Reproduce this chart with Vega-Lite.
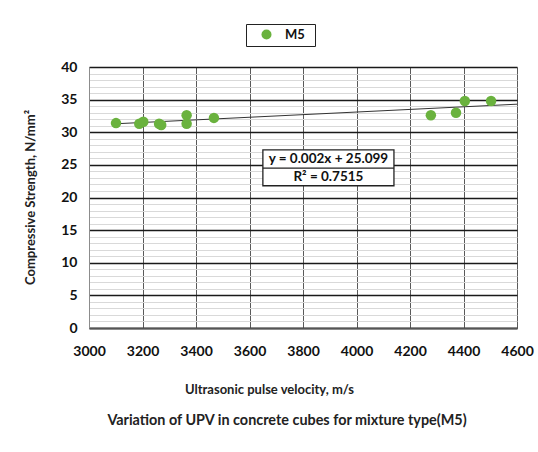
{
  "$schema": "https://vega.github.io/schema/vega-lite/v6.json",
  "width": 428,
  "height": 261,
  "autosize": {"type": "none"},
  "padding": {"left": 89, "top": 67, "right": 21, "bottom": 124},
  "background": "white",
  "config": {
    "font": "Lato",
    "view": {"stroke": null}
  },
  "title": {
    "text": "Variation of UPV in concrete cubes for mixture type(M5)",
    "orient": "bottom",
    "anchor": "middle",
    "offset": 18,
    "dx": -16,
    "font": "Lato",
    "fontSize": 14.4,
    "fontWeight": "bold",
    "color": "#222222"
  },
  "datasets": {
    "pts": [
      {"upv": 3101, "fc": 31.4, "mix": "M5"},
      {"upv": 3188, "fc": 31.3, "mix": "M5"},
      {"upv": 3203, "fc": 31.6, "mix": "M5"},
      {"upv": 3262, "fc": 31.3, "mix": "M5"},
      {"upv": 3270, "fc": 31.1, "mix": "M5"},
      {"upv": 3365, "fc": 32.6, "mix": "M5"},
      {"upv": 3365, "fc": 31.3, "mix": "M5"},
      {"upv": 3467, "fc": 32.2, "mix": "M5"},
      {"upv": 4278, "fc": 32.6, "mix": "M5"},
      {"upv": 4372, "fc": 33.0, "mix": "M5"},
      {"upv": 4405, "fc": 34.8, "mix": "M5"},
      {"upv": 4503, "fc": 34.8, "mix": "M5"}
    ],
    "trend": [
      {"upv": 3100, "fc": 31.299},
      {"upv": 4600, "fc": 34.299}
    ],
    "box": [
      {"x1": 3650, "x2": 4140, "y1": 21.8, "y2": 27.3}
    ],
    "divider": [
      {"x1": 3650, "x2": 4140, "y": 24.5}
    ],
    "eq": [
      {"x": 3895, "y": 25.9, "label": "y = 0.002x + 25.099"},
      {"x": 3895, "y": 23.1, "label": "R² = 0.7515"}
    ]
  },
  "layer": [
    {
      "data": {"name": "trend"},
      "mark": {"type": "line", "color": "#333333", "strokeWidth": 1},
      "encoding": {
        "x": {
          "field": "upv", "type": "quantitative",
          "scale": {"domain": [3000, 4600], "nice": false, "zero": false},
          "axis": {
            "values": [3000, 3200, 3400, 3600, 3800, 4000, 4200, 4400, 4600],
            "tickCount": 9,
            "format": "d",
            "labelOverlap": false,
            "labelFlush": false,
            "grid": true,
            "gridColor": "#5a5a5a",
            "gridWidth": 1,
            "domainColor": "#555555",
            "domainWidth": 2,
            "ticks": false,
            "labelFont": "Lato",
            "labelFontSize": 14,
            "labelFontWeight": "bold",
            "labelColor": "#111111",
            "labelPadding": 16,
            "title": "Ultrasonic pulse velocity, m/s",
            "titleFont": "Lato",
            "titleFontSize": 13,
            "titleFontWeight": "bold",
            "titleColor": "#222222",
            "titleX": 180,
            "titleY": 61,
            "titleBaseline": "middle",
            "titleAnchor": "start",
            "titleAlign": "center"
          }
        },
        "y": {
          "field": "fc", "type": "quantitative",
          "scale": {"domain": [0, 40], "nice": false},
          "axis": {
            "values": [0,1,2,3,4,5,6,7,8,9,10,11,12,13,14,15,16,17,18,19,20,21,22,23,24,25,26,27,28,29,30,31,32,33,34,35,36,37,38,39,40],
            "tickCount": 41,
            "labelOverlap": false,
            "labelFlush": false,
            "labelExpr": "datum.value % 5 === 0 ? datum.label : ''",
            "grid": true,
            "gridColor": {"condition": {"test": "datum.value % 5 === 0", "value": "#1a1a1a"}, "value": "#d9d9d9"},
            "gridWidth": {"condition": {"test": "datum.value % 5 === 0", "value": 1.3}, "value": 1},
            "domainColor": "#8c8c8c",
            "ticks": false,
            "labelFont": "Lato",
            "labelFontSize": 14,
            "labelFontWeight": "bold",
            "labelColor": "#111111",
            "labelPadding": 12,
            "title": "Compressive Strength, N/mm²",
            "titleFont": "Lato",
            "titleFontSize": 13,
            "titleFontWeight": "bold",
            "titleColor": "#222222",
            "titleX": -59,
            "titleY": 130,
            "titleAngle": -90,
            "titleAlign": "center",
            "titleBaseline": "middle",
            "titleAnchor": "start"
          }
        }
      }
    },
    {
      "data": {"name": "pts"},
      "mark": {"type": "point", "filled": true, "opacity": 1, "size": 110, "shape": "circle"},
      "encoding": {
        "x": {"field": "upv", "type": "quantitative"},
        "y": {"field": "fc", "type": "quantitative"},
        "color": {
          "field": "mix", "type": "nominal",
          "scale": {"domain": ["M5"], "range": ["#6ab23e"]},
          "legend": {
            "title": "\u00a0",
            "titleOrient": "right",
            "titlePadding": 6,
            "titleFontSize": 13,
            "orient": "none",
            "legendX": 157,
            "legendY": -43,
            "direction": "horizontal",
            "strokeColor": "#222222",
            "fillColor": "white",
            "padding": 4,
            "symbolType": "circle",
            "symbolSize": 100,
            "symbolOpacity": 1,
            "symbolOffset": 10,
            "labelFont": "Lato",
            "labelFontSize": 13,
            "labelFontWeight": "bold",
            "labelColor": "#111111",
            "labelOffset": 12,
            "offset": 0
          }
        }
      }
    },
    {
      "data": {"name": "box"},
      "mark": {"type": "rect", "fill": "white", "stroke": "#222222", "strokeWidth": 1.3},
      "encoding": {
        "x": {"field": "x1", "type": "quantitative"},
        "x2": {"field": "x2"},
        "y": {"field": "y1", "type": "quantitative"},
        "y2": {"field": "y2"}
      }
    },
    {
      "data": {"name": "divider"},
      "mark": {"type": "rule", "color": "#222222", "strokeWidth": 1.3},
      "encoding": {
        "x": {"field": "x1", "type": "quantitative"},
        "x2": {"field": "x2"},
        "y": {"field": "y", "type": "quantitative"}
      }
    },
    {
      "data": {"name": "eq"},
      "mark": {"type": "text", "font": "Lato", "fontSize": 13.5, "fontWeight": "bold", "color": "#111111", "align": "center", "baseline": "middle"},
      "encoding": {
        "x": {"field": "x", "type": "quantitative"},
        "y": {"field": "y", "type": "quantitative"},
        "text": {"field": "label"}
      }
    }
  ]
}
